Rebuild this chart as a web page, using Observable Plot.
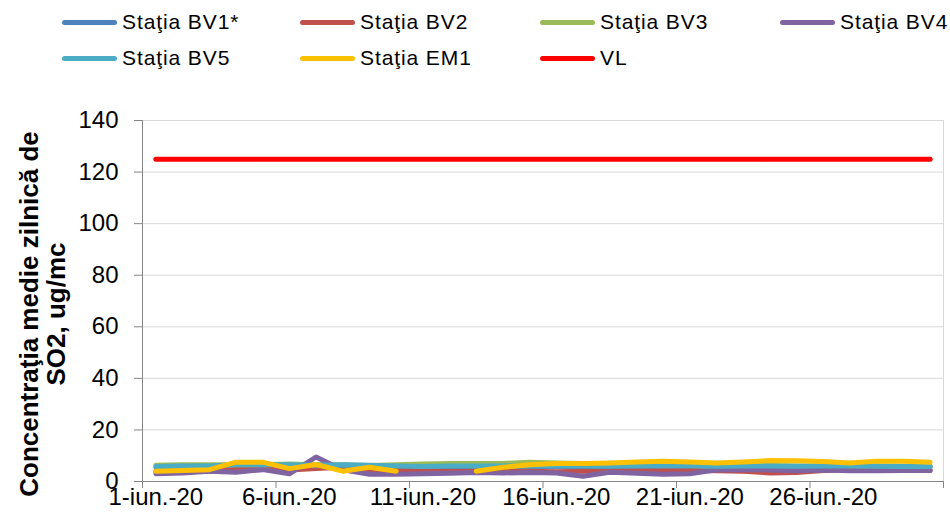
<!DOCTYPE html>
<html>
<head>
<meta charset="utf-8">
<script src="https://cdn.jsdelivr.net/npm/d3@7"></script>
<script src="https://cdn.jsdelivr.net/npm/@observablehq/plot@0.6"></script>
<style>
  html, body { margin: 0; padding: 0; background: #fff; }
  body { width: 950px; height: 521px; overflow: hidden; font-family: "Liberation Sans", Arial, sans-serif; }
  #legend { position: relative; width: 950px; height: 80px; }
  .item { position: absolute; display: flex; align-items: center; font-size: 21px; letter-spacing: 0.9px; color: #000; white-space: nowrap; }
  .sw { width: 55px; height: 5px; border-radius: 3px; margin-right: 5px; }
  #chart svg { display: block; }
</style>
</head>
<body>
<div id="legend"></div>
<div id="chart"></div>
<script>
// ---- data ----
const days = [1,2,3,4,5,6,7,8,9,10,11,12,13,14,15,16,17,18,19,20,21,22,23,24,25,26,27,28,29,30];
const seriesNames = ["Staţia BV1*","Staţia BV2","Staţia BV3","Staţia BV4","Staţia BV5","Staţia EM1","VL"];
const bv1 = [5.6,5.8,5.8,6.2,6.2,6.2,5.8,6.2,6.0,5.8,5.6,5.8,5.8,5.8,5.8,5.8,5.8,5.7,5.8,5.8,5.8,5.7,5.8,5.8,5.7,5.8,5.8,5.7,5.6,5.6];
const bv2 = [4.0,4.0,4.5,5.0,5.0,4.5,5.0,5.5,4.5,4.5,4.0,4.0,4.0,4.0,4.0,3.8,4.0,4.0,4.2,4.3,4.3,4.2,4.0,3.3,3.5,4.3,4.5,4.5,4.5,4.3];
const bv3 = [6.3,6.5,6.5,6.5,6.5,6.8,6.5,6.5,6.2,6.5,6.8,7.0,7.0,7.0,7.5,7.2,7.0,6.8,6.5,6.3,6.2,6.0,6.0,6.2,6.0,6.0,6.0,6.0,5.9,5.9];
const bv4 = [3.0,3.3,4.0,3.6,4.6,3.0,9.5,4.5,2.8,2.8,3.0,3.2,3.5,3.3,3.5,3.3,2.0,3.6,3.2,2.8,3.0,4.5,4.6,4.5,4.2,4.5,4.2,4.2,4.3,4.3];
const bv5 = [5.8,6.0,6.0,6.5,6.5,6.5,6.3,6.5,6.3,6.0,5.8,6.0,6.0,6.0,6.0,6.0,6.0,5.9,6.0,6.0,6.0,5.9,6.0,6.0,5.9,6.0,6.0,5.9,5.8,5.8];
const em1 = [4.0,4.3,4.6,7.5,7.5,5.0,6.6,4.0,5.5,4.0,null,null,4.0,5.5,6.5,7.0,7.0,7.2,7.6,7.9,7.6,7.2,7.6,8.1,8.0,7.8,7.2,7.9,7.9,7.5];
const vl  = [125,125,125,125,125,125,125,125,125,125,125,125,125,125,125,125,125,125,125,125,125,125,125,125,125,125,125,125,125,125];
const seriesColors = ["#4F81BD","#C0504D","#9BBB59","#8064A2","#4BACC6","#FFC000","#FF0000"];
const yTicks = [0,20,40,60,80,100,120,140];
const xLabelDays = [1,6,11,16,21,26];
const xTickLabels = ["1-iun.-20","6-iun.-20","11-iun.-20","16-iun.-20","21-iun.-20","26-iun.-20"];
const yLabel = "Concentraţia medie zilnică de\nSO2, ug/mc";

const allValues = [bv1,bv2,bv3,bv4,bv5,em1,vl];

// ---- legend ----
const legendPos = [[62,22],[300,22],[540,22],[780,22],[62,58],[300,58],[540,58]];
const legend = document.getElementById("legend");
seriesNames.forEach((name, i) => {
  const it = document.createElement("div");
  it.className = "item";
  it.style.left = legendPos[i][0] + "px";
  it.style.top = (legendPos[i][1] - 13) + "px";
  it.style.height = "26px";
  const sw = document.createElement("div");
  sw.className = "sw";
  sw.style.background = seriesColors[i];
  const tx = document.createElement("span");
  tx.textContent = name;
  it.appendChild(sw); it.appendChild(tx);
  legend.appendChild(it);
});

// ---- chart ----
const boundaryTicks = [0.5,5.5,10.5,15.5,20.5,25.5,30.5];
const lineMarks = allValues.map((vals, i) =>
  Plot.lineY(days.map((d, j) => ({day: d, value: vals[j]})), {
    x: "day", y: "value", stroke: seriesColors[i], strokeWidth: 5,
    strokeLinejoin: "round", strokeLinecap: "round"
  })
);

const chart = Plot.plot({
  width: 950,
  height: 441,
  marginTop: 40,
  marginBottom: 40,
  marginLeft: 142,
  marginRight: 7,
  style: {fontFamily: "'Liberation Sans', Arial, sans-serif", fontSize: "24px", background: "#fff", overflow: "visible"},
  x: {domain: [0.5, 30.5]},
  y: {domain: [0, 140]},
  marks: [
    Plot.gridY(yTicks.filter(d => d > 0), {stroke: "#d9d9d9", strokeOpacity: 1}),
    Plot.ruleX([30.5], {stroke: "#d9d9d9"}),
    ...lineMarks,
    Plot.ruleX([0.5], {stroke: "#868686"}),
    Plot.ruleY([0], {stroke: "#868686"}),
    Plot.axisY({ticks: yTicks, tickSize: 8, tickPadding: 16, stroke: "#868686", label: null, fontSize: 24, style: {letterSpacing: "0.8px"}}),
    Plot.axisX({ticks: boundaryTicks, tickSize: 7, stroke: "#868686", label: null, tickFormat: () => ""}),
    Plot.axisX({ticks: xLabelDays, tickSize: 0, tickPadding: 6, label: null, fontSize: 24,
      tickFormat: (d) => xTickLabels[xLabelDays.indexOf(d)]}),
    Plot.text([yLabel], {frameAnchor: "left", text: d => d, rotate: -90, dx: -100, dy: 13,
      fontWeight: "bold", fontSize: 26, lineHeight: 1.05, textAnchor: "middle", fill: "#000"})
  ]
});
document.getElementById("chart").appendChild(chart);
</script>
</body>
</html>
